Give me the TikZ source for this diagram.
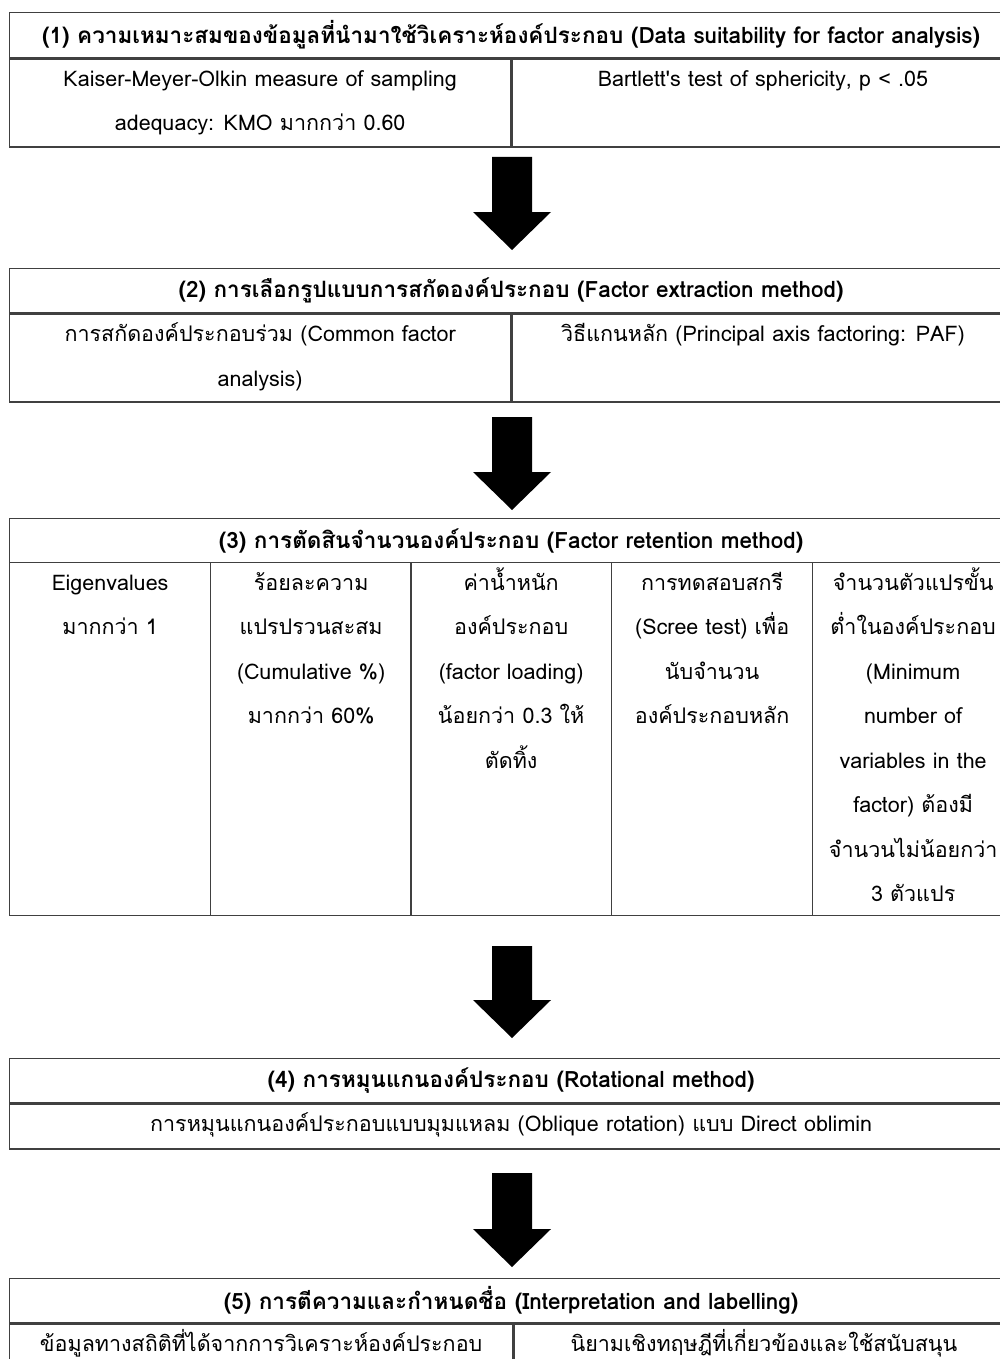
\documentclass[tikz,border=0pt]{standalone}
\usepackage{fontspec}
\newfontfamily\thaifont[Script=Thai]{Loma}
\usetikzlibrary{positioning,calc}
\tikzset{
    % parts of the tables
    head/.style={draw=black!75,line width=1.3pt,anchor=north west,inner sep=0pt,
        minimum width=1003pt,minimum height=44pt,
        font=\thaifont\bfseries\fontsize{22.5}{26}\selectfont},
    cell/.style={draw=black!75,line width=1.3pt,anchor=north west,inner sep=0pt},
    txt/.style={anchor=north,align=center,inner sep=0pt,
        font=\thaifont\fontsize{21.5}{44.5}\selectfont},
    blockarrow/.style={fill=black}
}
% same top for every first line
\newcommand\tstrut{\rule{0pt}{32pt}}
% thick down arrow, #1 = top of the shaft, #2 = tip
\newcommand\bigarrow[2]{%
    \fill[blockarrow] ($(#1)+(-20,0)$) -- ($(#1)+(20,0)$) -- ($(#2)+(20,-38)$)
        -- ($(#2)+(39,-38)$) -- (#2) -- ($(#2)+(-39,-38)$) -- ($(#2)+(-20,-38)$) -- cycle;}

\begin{document}
\begin{tikzpicture}[x=1pt,y=-1pt]
    \useasboundingbox (0,0) rectangle (1000,1359);

    % (1)
    \node[head,minimum height=45pt] (head1) at (9,12) {(1) ความเหมาะสมของข้อมูลที่นำมาใช้วิเคราะห์องค์ประกอบ (Data suitability for factor analysis)};
    \node[cell,minimum width=501pt,minimum height=88pt] (kmo) at (head1.south west) {};
    \node[cell,minimum width=502pt,minimum height=88pt] (bart) at (kmo.north east) {};
    \node[txt] (kmotxt) at ([yshift=4pt]kmo.north) {\tstrut Kaiser-Meyer-Olkin measure of sampling\\adequacy: KMO มากกว่า 0.60};
    \node[txt] (barttxt) at ([yshift=4pt]bart.north) {\tstrut Bartlett's test of sphericity, p < .05};

    % (2)
    \node[head] (head2) at (9,268) {(2) การเลือกรูปแบบการสกัดองค์ประกอบ (Factor extraction method)};
    \node[cell,minimum width=501pt,minimum height=88pt] (common) at (head2.south west) {};
    \node[cell,minimum width=502pt,minimum height=88pt] (paf) at (common.north east) {};
    \node[txt] (commontxt) at ([yshift=4pt]common.north) {\tstrut การสกัดองค์ประกอบร่วม (Common factor\\analysis)};
    \node[txt] (paftxt) at ([yshift=4pt]paf.north) {\tstrut วิธีแกนหลัก (Principal axis factoring: PAF)};

    % (3)
    \node[head] (head3) at (9,518) {(3) การตัดสินจำนวนองค์ประกอบ (Factor retention method)};
    \foreach \n/\x in {eig/9,cum/210,load/410,scree/611,minvar/812}
        \node[cell,minimum width=201pt,minimum height=353pt] (\n) at (\x,562) {};
    \node[txt] (eigtxt) at ([yshift=4pt]eig.north) {\tstrut Eigenvalues\\มากกว่า 1};
    \node[txt] (cumtxt) at ([yshift=4pt]cum.north) {\tstrut ร้อยละความ\\แปรปรวนสะสม\\(Cumulative \%)\\มากกว่า 60\%};
    \node[txt] (loadtxt) at ([yshift=4pt]load.north) {\tstrut ค่าน้ำหนัก\\องค์ประกอบ\\(factor loading)\\น้อยกว่า 0.3 ให้\\ตัดทิ้ง};
    \node[txt] (screetxt) at ([yshift=4pt]scree.north) {\tstrut การทดสอบสกรี\\(Scree test) เพื่อ\\นับจำนวน\\องค์ประกอบหลัก};
    \node[txt] (minvartxt) at ([yshift=4pt]minvar.north) {\tstrut จำนวนตัวแปรขั้น\\ต่ำในองค์ประกอบ\\(Minimum\\number of\\variables in the\\factor) ต้องมี\\จำนวนไม่น้อยกว่า\\3 ตัวแปร};

    % (4)
    \node[head] (head4) at (9,1058) {(4) การหมุนแกนองค์ประกอบ (Rotational method)};
    \node[cell,minimum width=1003pt,minimum height=45pt] (oblim) at (head4.south west) {};
    \node[txt] (oblimtxt) at ([yshift=4pt]oblim.north) {\tstrut การหมุนแกนองค์ประกอบแบบมุมแหลม (Oblique rotation) แบบ Direct oblimin};

    % (5)
    \node[head] (head5) at (9,1278) {(5) การตีความและกำหนดชื่อ (Interpretation and labelling)};
    \node[cell,minimum width=503pt,minimum height=70pt] (stat) at (head5.south west) {};
    \node[cell,minimum width=500pt,minimum height=70pt] (theory) at (stat.north east) {};
    \node[txt] (stattxt) at ([yshift=4pt]stat.north) {\tstrut ข้อมูลทางสถิติที่ได้จากการวิเคราะห์องค์ประกอบ};
    \node[txt] (theorytxt) at ([yshift=4pt]theory.north) {\tstrut นิยามเชิงทฤษฎีที่เกี่ยวข้องและใช้สนับสนุน};

    % arrows between the steps
    \foreach \s/\e [count=\i] in {157/250,417/510,946/1038,1173/1267}{
        \coordinate (s\i) at (512,\s);
        \coordinate (e\i) at (512,\e);
        \bigarrow{s\i}{e\i}
    }
\end{tikzpicture}
\end{document}
